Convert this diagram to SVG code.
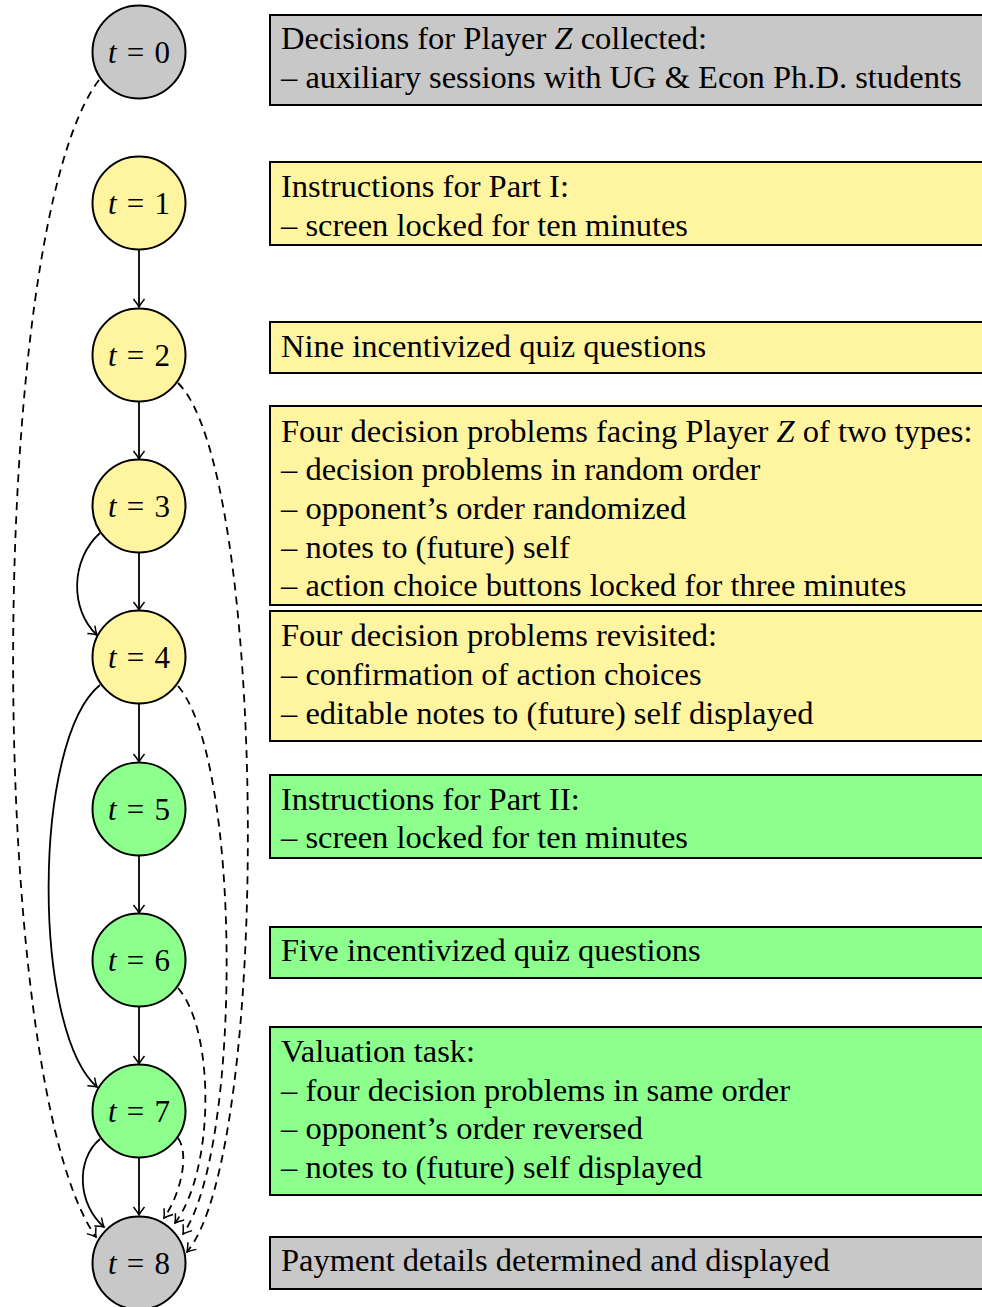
<svg xmlns="http://www.w3.org/2000/svg" width="982" height="1307" viewBox="0 0 982 1307">
<defs>
<style>
.n{stroke:#000;stroke-width:2}
.g{fill:#c8c8c8}.y{fill:#fff5a0}.gr{fill:#8cff8c}
.b{stroke:#000;stroke-width:2}
.t{font-family:"Liberation Serif","Times New Roman",serif;font-size:32.5px;fill:#000}
.c{font-family:"Liberation Serif","Times New Roman",serif;font-size:31px;fill:#000;text-anchor:middle}
.e{fill:none;stroke:#000;stroke-width:1.8;marker-end:url(#ah)}
.d{stroke-dasharray:8,6}
</style>
<marker id="ah" markerWidth="14" markerHeight="14" refX="11" refY="7" orient="auto" markerUnits="userSpaceOnUse">
<path d="M3,1.5 Q8,5.5 11,7 Q8,8.5 3,12.5" fill="none" stroke="#000" stroke-width="1.5"/>
</marker>
</defs>
<g id="connectors">
<path class="e" d="M139,250 L139,307"/>
<path class="e" d="M139,402 L139,459"/>
<path class="e" d="M139,553 L139,610"/>
<path class="e" d="M139,704 L139,762"/>
<path class="e" d="M139,856 L139,913"/>
<path class="e" d="M139,1007 L139,1064"/>
<path class="e" d="M139,1158 L139,1215"/>
<path class="e" d="M100,533 C70,560 70,610 97,635"/>
<path class="e" d="M100,685 C32,740 32,1030 97,1087"/>
<path class="e" d="M100,1139 C75,1160 78,1205 104,1227"/>
<path class="e d" d="M99,80 C-15,230 -15,1080 96,1237"/>
<path class="e d" d="M178,383 C267,470 272,1150 187,1252"/>
<path class="e d" d="M178,686 C242,760 242,1150 183,1234"/>
<path class="e d" d="M178,988 C215,1030 215,1170 175,1223"/>
<path class="e d" d="M178,1138 C190,1155 180,1195 164,1218"/>
</g>
<g id="node0"><circle class="n g" cx="139" cy="52" r="46.5"/><text class="c" x="139" y="63" textLength="62" lengthAdjust="spacing"><tspan font-style="italic">t</tspan> = 0</text></g>
<g id="node1"><circle class="n y" cx="139" cy="203" r="46.5"/><text class="c" x="139" y="214" textLength="62" lengthAdjust="spacing"><tspan font-style="italic">t</tspan> = 1</text></g>
<g id="node2"><circle class="n y" cx="139" cy="355" r="46.5"/><text class="c" x="139" y="366" textLength="62" lengthAdjust="spacing"><tspan font-style="italic">t</tspan> = 2</text></g>
<g id="node3"><circle class="n y" cx="139" cy="506" r="46.5"/><text class="c" x="139" y="517" textLength="62" lengthAdjust="spacing"><tspan font-style="italic">t</tspan> = 3</text></g>
<g id="node4"><circle class="n y" cx="139" cy="657" r="46.5"/><text class="c" x="139" y="668" textLength="62" lengthAdjust="spacing"><tspan font-style="italic">t</tspan> = 4</text></g>
<g id="node5"><circle class="n gr" cx="139" cy="809" r="46.5"/><text class="c" x="139" y="820" textLength="62" lengthAdjust="spacing"><tspan font-style="italic">t</tspan> = 5</text></g>
<g id="node6"><circle class="n gr" cx="139" cy="960" r="46.5"/><text class="c" x="139" y="971" textLength="62" lengthAdjust="spacing"><tspan font-style="italic">t</tspan> = 6</text></g>
<g id="node7"><circle class="n gr" cx="139" cy="1111" r="46.5"/><text class="c" x="139" y="1122" textLength="62" lengthAdjust="spacing"><tspan font-style="italic">t</tspan> = 7</text></g>
<g id="node8"><circle class="n g" cx="139" cy="1263" r="46.5"/><text class="c" x="139" y="1274" textLength="62" lengthAdjust="spacing"><tspan font-style="italic">t</tspan> = 8</text></g>

<g id="box0"><rect class="b g" x="270" y="15" width="730" height="90"/>
<text class="t" x="281" y="49">Decisions for Player <tspan font-style="italic">Z</tspan> collected:</text>
<text class="t" x="281" y="88">– auxiliary sessions with UG &amp; Econ Ph.D. students</text></g>
<g id="box1"><rect class="b y" x="270" y="162" width="730" height="83"/>
<text class="t" x="281" y="197">Instructions for Part I:</text>
<text class="t" x="281" y="236">– screen locked for ten minutes</text></g>
<g id="box2"><rect class="b y" x="270" y="322" width="730" height="51"/>
<text class="t" x="281" y="357">Nine incentivized quiz questions</text></g>
<g id="box3"><rect class="b y" x="270" y="406" width="730" height="199"/>
<text class="t" x="281" y="442">Four decision problems facing Player <tspan font-style="italic">Z</tspan> of two types:</text>
<text class="t" x="281" y="480">– decision problems in random order</text>
<text class="t" x="281" y="519">– opponent’s order randomized</text>
<text class="t" x="281" y="558">– notes to (future) self</text>
<text class="t" x="281" y="596">– action choice buttons locked for three minutes</text></g>
<g id="box4"><rect class="b y" x="270" y="611" width="730" height="130"/>
<text class="t" x="281" y="646">Four decision problems revisited:</text>
<text class="t" x="281" y="685">– confirmation of action choices</text>
<text class="t" x="281" y="724">– editable notes to (future) self displayed</text></g>
<g id="box5"><rect class="b gr" x="270" y="775" width="730" height="83"/>
<text class="t" x="281" y="810">Instructions for Part II:</text>
<text class="t" x="281" y="848">– screen locked for ten minutes</text></g>
<g id="box6"><rect class="b gr" x="270" y="927" width="730" height="51"/>
<text class="t" x="281" y="961">Five incentivized quiz questions</text></g>
<g id="box7"><rect class="b gr" x="270" y="1027" width="730" height="168"/>
<text class="t" x="281" y="1062">Valuation task:</text>
<text class="t" x="281" y="1101">– four decision problems in same order</text>
<text class="t" x="281" y="1139">– opponent’s order reversed</text>
<text class="t" x="281" y="1178">– notes to (future) self displayed</text></g>
<g id="box8"><rect class="b g" x="270" y="1237" width="730" height="52"/>
<text class="t" x="281" y="1271">Payment details determined and displayed</text></g>
</svg>
